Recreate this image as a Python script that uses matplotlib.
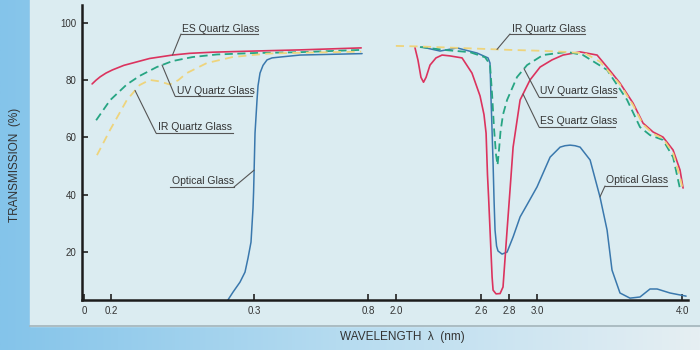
import numpy as np
import matplotlib
matplotlib.use("Agg")
import matplotlib.pyplot as plt
from matplotlib.colors import LinearSegmentedColormap
from matplotlib.patches import Rectangle
from matplotlib.lines import Line2D

plt.rcParams['font.family'] = ['Liberation Sans', 'DejaVu Sans']

# uneven wavelength axis: every tick has its own spacing
X_TICKS = [0, 0.2, 0.3, 0.8, 2.0, 2.6, 2.8, 3.0, 4.0]
X_TICK_LABELS = ["0", "0.2", "0.3", "0.8", "2.0", "2.6", "2.8", "3.0", "4:0"]
Y_TICKS = [20, 40, 60, 80, 100]

# curves: wavelength / transmission (%)
# short-wave part
es_short_wl = [0.06, 0.089, 0.12, 0.163, 0.201, 0.209, 0.218, 0.227, 0.243, 0.255,
               0.271, 0.30, 0.50, 0.77]
es_short_t = [78.7, 80.0, 81.2, 82.5, 83.6, 85.2, 86.4, 87.6, 88.8, 89.4,
              89.8, 90.2, 90.6, 91.3]

uv_short_wl = [0.09, 0.193, 0.211, 0.22, 0.232, 0.243, 0.257, 0.274, 0.30, 0.50, 0.77]
uv_short_t = [66.0, 73.0, 78.5, 81.5, 84.6, 86.7, 88.1, 89.0, 89.5, 89.8, 90.6]

ir_short_wl = [0.096, 0.193, 0.211, 0.22, 0.227, 0.234, 0.241, 0.247, 0.253,
               0.267, 0.285, 0.357, 0.50, 0.77]
ir_short_t = [53.8, 62.6, 73.0, 78.3, 80.1, 79.6, 78.5, 80.0, 82.5,
              86.0, 88.1, 89.3, 89.6, 90.0]

opt_short_wl = [0.2818, 0.2853, 0.2902, 0.2937, 0.2958, 0.2979, 0.2986, 0.2993,
                0.2997, 0.300, 0.3044, 0.3132, 0.3175, 0.3263, 0.3395, 0.357,
                0.379, 0.414, 0.502, 0.774]
opt_short_t = [3.2, 5.9, 9.4, 12.9, 17.8, 23.4, 29.4, 35.3,
               40.9, 46.9, 61.5, 73.1, 78.0, 82.5, 85.2, 87.1,
               87.8, 88.1, 88.8, 89.3]

# long-wave part
es_long_wl = [2.134, 2.155, 2.176, 2.194, 2.212, 2.240, 2.282, 2.325, 2.381, 2.466,
              2.536, 2.593, 2.621, 2.636, 2.646, 2.654, 2.679, 2.686, 2.707, 2.736,
              2.757, 2.786, 2.807, 2.829, 2.879, 2.950, 3.021, 3.103, 3.179, 3.297,
              3.414, 3.483, 3.572, 3.662, 3.731, 3.800, 3.869, 3.938, 3.986, 4.007]
es_long_t = [91.3, 87.0, 81.0, 79.3, 81.0, 85.3, 87.8, 88.8, 88.5, 87.8,
             82.5, 74.5, 68.0, 61.5, 47.0, 39.0, 11.2, 6.6, 5.3, 5.4,
             7.7, 27.6, 41.6, 56.6, 73.1, 80.1, 84.6, 87.1, 88.8, 89.9,
             88.8, 84.6, 79.0, 72.0, 65.0, 61.9, 60.1, 55.6, 48.6, 42.3]

uv_long_wl = [2.169, 2.360, 2.522, 2.629, 2.664, 2.679, 2.693, 2.707, 2.718, 2.729,
              2.739, 2.757, 2.786, 2.857, 2.929, 3.041, 3.207, 3.317, 3.483, 3.621,
              3.710, 3.779, 3.869, 3.938, 3.986]
uv_long_t = [91.6, 90.5, 89.8, 88.0, 85.5, 75.0, 63.0, 54.0, 50.3, 56.0,
             62.0, 68.0, 73.1, 81.1, 85.3, 88.8, 89.9, 88.8, 83.6, 73.1,
             63.6, 60.8, 59.1, 53.1, 42.0]

ir_long_wl = [1.993, 2.169, 2.381, 2.593, 2.807, 3.021, 3.193, 3.331, 3.434,
              3.572, 3.662, 3.731, 3.800, 3.869, 3.938, 3.986, 4.007]
ir_long_t = [92.0, 91.8, 91.4, 91.0, 90.6, 90.3, 89.9, 89.4, 86.5,
             78.5, 71.3, 64.5, 61.3, 59.6, 54.5, 46.0, 41.5]

opt_long_wl = [2.183, 2.311, 2.430, 2.572, 2.650, 2.664, 2.671, 2.679, 2.686, 2.693,
               2.700, 2.711, 2.721, 2.750, 2.786, 2.829, 2.879, 2.929, 3.000, 3.090,
               3.159, 3.193, 3.228, 3.262, 3.297, 3.366, 3.434, 3.483, 3.517, 3.572,
               3.641, 3.710, 3.779, 3.828, 3.917, 4.028]
opt_long_t = [91.6, 90.2, 91.3, 89.5, 87.8, 86.0, 74.0, 62.0, 51.0, 38.0,
              27.6, 22.0, 20.3, 19.2, 19.9, 25.2, 32.2, 36.5, 42.7, 53.1,
              56.6, 57.1, 57.3, 57.1, 56.6, 52.1, 39.2, 27.6, 13.6, 5.6,
              3.8, 4.2, 7.0, 7.0, 5.6, 4.5]

ES_COLOR = '#db335e'
UV_COLOR = '#27a583'
IR_COLOR = '#eed47c'
OPT_COLOR = '#3a78ad'

# piecewise linear scale so the ticks land where the printed axis has them
KNOT_WL = [-0.03] + X_TICKS + [4.1]
KNOT_POS = [80, 84, 111, 254, 368, 396, 481, 509, 537, 682, 696.5]


def fwd(x):
    return np.interp(x, KNOT_WL, KNOT_POS)


def inv(p):
    return np.interp(p, KNOT_POS, KNOT_WL)


W, H = 700, 350


def fig_xy(px, py):
    return px / W, 1 - py / H


fig = plt.figure(figsize=(7, 3.5), dpi=100)

# blue border and the paper sheet
bg = fig.add_axes([0, 0, 1, 1], zorder=-10)
grad = np.linspace(0, 1, 256).reshape(1, -1)
edge = LinearSegmentedColormap.from_list('edge', ['#84c4ea', '#b7dcf0', '#e6eff3'])
bg.imshow(grad, extent=[0, 1, 0, 1], aspect='auto', cmap=edge)
bg.add_patch(Rectangle((30 / W, 24 / H), 1, 1, color='#dbecf1'))
bg.plot([30 / W, 1], [24 / H, 24 / H], color='#a3b4ba', lw=1.2)
bg.set_xlim(0, 1)
bg.set_ylim(0, 1)
bg.axis('off')

ax = fig.add_axes([82 / W, 50 / H, 606 / W, 295 / H])
ax.patch.set_alpha(0)
ax.set_xscale('function', functions=(fwd, inv))
ax.set_xlim(-0.015, 4.041)
ax.set_ylim(3.15, 106.3)

solid = dict(solid_joinstyle='round', solid_capstyle='round')
ax.plot(opt_short_wl, opt_short_t, color=OPT_COLOR, lw=1.1, **solid)
ax.plot(opt_long_wl, opt_long_t, color=OPT_COLOR, lw=1.1, **solid)
ax.plot(es_short_wl, es_short_t, color=ES_COLOR, lw=1.2, **solid)
ax.plot(es_long_wl, es_long_t, color=ES_COLOR, lw=1.2, **solid)
ax.plot(uv_short_wl, uv_short_t, color=UV_COLOR, lw=1.3, dashes=(4.5, 2.5))
ax.plot(uv_long_wl, uv_long_t, color=UV_COLOR, lw=1.3, dashes=(4.5, 2.5))
ax.plot(ir_short_wl, ir_short_t, color=IR_COLOR, lw=1.3, dashes=(4.5, 3))
ax.plot(ir_long_wl, ir_long_t, color=IR_COLOR, lw=1.3, dashes=(4.5, 3))

for side in ['top', 'right']:
    ax.spines[side].set_visible(False)
for side in ['left', 'bottom']:
    ax.spines[side].set_linewidth(1.8)
    ax.spines[side].set_color('#1c1c1c')

ax.set_xticks(X_TICKS, X_TICK_LABELS)
ax.set_yticks(Y_TICKS)
ax.minorticks_off()
ax.tick_params(direction='in', length=4, width=1.2, color='#222222',
               labelsize=7, labelcolor='#333333', pad=4)

fig.text(15 / W, 1 - 165 / H, "TRANSMISSION  (%)", rotation=90,
         ha='center', va='center', fontsize=8.5, color='#333333')
fig.text(402 / W, 1 - 337 / H, "WAVELENGTH  λ  (nm)",
         ha='center', va='center', fontsize=8.5, color='#333333')

# callouts: label, curve, wavelength the leader points at,
# underline (x0, x1, y) and which end the leader leaves from
callouts = [
    ("ES Quartz Glass", es_short_wl, es_short_t, 0.243, (181, 258, 34), 'left'),
    ("UV Quartz Glass", uv_short_wl, uv_short_t, 0.2357, (175, 252, 96), 'left'),
    ("IR Quartz Glass", ir_short_wl, ir_short_t, 0.2168, (156, 233, 133), 'left'),
    ("Optical Glass", opt_short_wl, opt_short_t, 0.3005, (170, 234, 187), 'right'),
    ("IR Quartz Glass", ir_long_wl, ir_long_t, 2.714, (510, 585, 34), 'left'),
    ("UV Quartz Glass", uv_long_wl, uv_long_t, 2.907, (539, 616, 97), 'left'),
    ("ES Quartz Glass", es_long_wl, es_long_t, 2.90, (539, 615, 127), 'left'),
    ("Optical Glass", opt_long_wl, opt_long_t, 3.434, (605, 667, 186), 'left'),
]

LEAD = '#555555'
for label, wl, t, at, (x0, x1, uy), side in callouts:
    target = (at, np.interp(at, wl, t))
    jx = x0 if side == 'left' else x1
    ax.annotate('', xy=target, xycoords='data',
                xytext=fig_xy(jx, uy), textcoords='figure fraction',
                arrowprops=dict(arrowstyle='-', color=LEAD, lw=0.8,
                                shrinkA=0, shrinkB=0))
    fig.add_artist(Line2D([x0 / W, x1 / W], [1 - uy / H] * 2,
                          transform=fig.transFigure, color=LEAD, lw=0.8))
    fig.text((x0 + 1.5) / W, 1 - (uy - 2.5) / H, label, ha='left',
             va='baseline', fontsize=7.5, color='#333333')

fig.savefig("out.png", dpi=100)
